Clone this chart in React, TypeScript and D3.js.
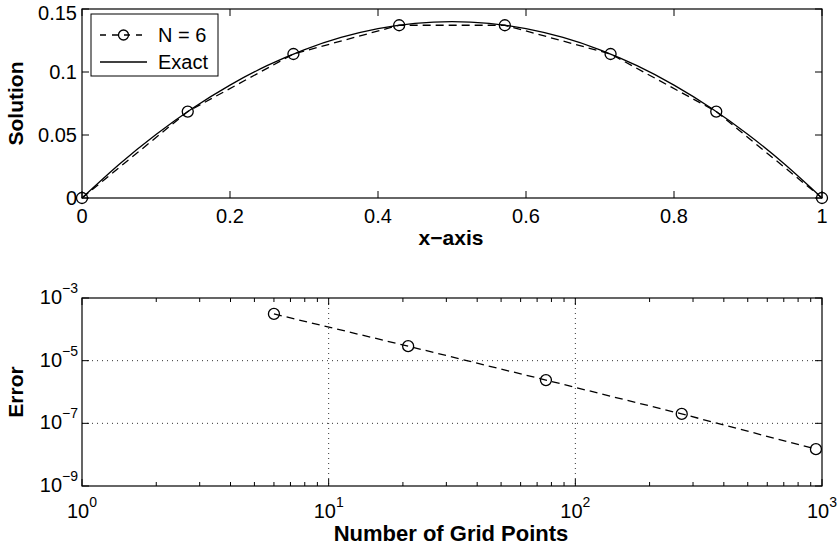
import React from "react";
import * as d3 from "d3";

// ---- data ----
const nodeX = [0, 0.1429, 0.2857, 0.4286, 0.5714, 0.7143, 0.8571, 1];
const nodeU = [0, 0.0686, 0.1143, 0.1371, 0.1371, 0.1143, 0.0686, 0];
const exactX = [0, 0.05, 0.1, 0.15, 0.2, 0.25, 0.3, 0.35, 0.4, 0.45, 0.5, 0.55, 0.6, 0.65, 0.7, 0.75, 0.8, 0.85, 0.9, 0.95, 1];
const exactU = [0, 0.0266, 0.0504, 0.0714, 0.0896, 0.105, 0.1176, 0.1274, 0.1344, 0.1386, 0.14, 0.1386, 0.1344, 0.1274, 0.1176, 0.105, 0.0896, 0.0714, 0.0504, 0.0266, 0];
const gridN = [6, 21, 76, 270, 945];
const errVals = [3.1e-4, 2.9e-5, 2.4e-6, 2.0e-7, 1.5e-8];
const topXTicks = [0, 0.2, 0.4, 0.6, 0.8, 1];
const topXLabels = ["0", "0.2", "0.4", "0.6", "0.8", "1"];
const topYTicks = [0, 0.05, 0.1, 0.15];
const topYLabels = ["0", "0.05", "0.1", "0.15"];
const botXExp = [0, 1, 2, 3];
const botYExp = [-3, -5, -7, -9];
const legendLabels = ["N = 6", "Exact"];

const FONT = "'Liberation Sans', Arial, Helvetica, sans-serif";

export default function App() {
  const L = 82, R = 822;
  const x1 = d3.scaleLinear().domain([0, 1]).range([L, R]);
  const y1 = d3.scaleLinear().domain([0, 0.15]).range([198, 9]);
  const x2 = d3.scaleLog().domain([1, 1000]).range([L, R]);
  const y2 = d3.scaleLog().domain([1e-9, 1e-3]).range([486, 298]);

  const numLine = d3.line<number>().x((_, i) => x1(nodeX[i])).y((d) => y1(d))(nodeU) || "";
  const exLine = d3.line<number>().x((_, i) => x1(exactX[i])).y((d) => y1(d)).curve(d3.curveNatural)(exactU) || "";
  const errLine = d3.line<number>().x((_, i) => x2(gridN[i])).y((d) => y2(d))(errVals) || "";

  const T = 7, t = 4;
  const minorX: number[] = [];
  for (let e = 0; e < 3; e++) for (let k = 2; k <= 9; k++) minorX.push(k * Math.pow(10, e));

  const dash = "8,5";
  const r = 5.5;

  return (
    <svg width={839} height={547} style={{ position: "absolute", left: 0, top: 0, background: "#fff" }} fontFamily={FONT}>
      <rect x={0} y={0} width={839} height={547} fill="#fff" />
      {/* ---------- top plot ---------- */}
      <g>
        {topXTicks.map((v, i) => (
          <g key={"tx" + i}>
            <line x1={x1(v)} x2={x1(v)} y1={198} y2={198 - T} stroke="#000" />
            <line x1={x1(v)} x2={x1(v)} y1={9} y2={9 + T} stroke="#000" />
            <text x={x1(v)} y={223} fontSize={20} textAnchor="middle">{topXLabels[i]}</text>
          </g>
        ))}
        {topYTicks.map((v, i) => (
          <g key={"ty" + i}>
            <line x1={L} x2={L + T} y1={y1(v)} y2={y1(v)} stroke="#000" />
            <line x1={R} x2={R - T} y1={y1(v)} y2={y1(v)} stroke="#000" />
            <text x={77} y={Math.max(y1(v), 12.5) + 7} fontSize={20} textAnchor="end">{topYLabels[i]}</text>
          </g>
        ))}
        <path d={exLine} fill="none" stroke="#000" strokeWidth={1.3} />
        <path d={numLine} fill="none" stroke="#000" strokeWidth={1.3} strokeDasharray={dash} />
        {nodeU.map((v, i) => (
          <circle key={"c" + i} cx={x1(nodeX[i])} cy={y1(v)} r={r} fill="none" stroke="#000" strokeWidth={1.3} />
        ))}
        <rect x={L} y={9} width={R - L} height={189} fill="none" stroke="#000" strokeWidth={1.2} />
        {/* legend */}
        <rect x={91} y={14} width={127} height={62} fill="#fff" stroke="#000" strokeWidth={1} />
        <line x1={100} x2={147} y1={35} y2={35} stroke="#000" strokeWidth={1.3} strokeDasharray="6,6" strokeDashoffset={0} />
        <circle cx={123.5} cy={35} r={5} fill="none" stroke="#000" strokeWidth={1.3} />
        <text x={158} y={42} fontSize={20}>{legendLabels[0]}</text>
        <line x1={100} x2={147} y1={62} y2={62} stroke="#000" strokeWidth={1.3} />
        <text x={158} y={69} fontSize={20}>{legendLabels[1]}</text>
        <text x={451} y={245} fontSize={21} fontWeight="bold" textAnchor="middle">x−axis</text>
        <text transform={`translate(23,${(9 + 198) / 2}) rotate(-90)`} fontSize={21} fontWeight="bold" textAnchor="middle">Solution</text>
      </g>

      {/* ---------- bottom plot ---------- */}
      <g>
        {[10, 100].map((v) => (
          <line key={"gx" + v} x1={x2(v)} x2={x2(v)} y1={298} y2={486} stroke="#333" strokeDasharray="1,4" />
        ))}
        {[1e-5, 1e-7].map((v) => (
          <line key={"gy" + v} x1={L} x2={R} y1={y2(v)} y2={y2(v)} stroke="#333" strokeDasharray="1,4" />
        ))}
        {minorX.map((v) => (
          <g key={"mx" + v}>
            <line x1={x2(v)} x2={x2(v)} y1={486} y2={486 - t} stroke="#000" />
            <line x1={x2(v)} x2={x2(v)} y1={298} y2={298 + t} stroke="#000" />
          </g>
        ))}
        {botXExp.map((e) => {
          const v = Math.pow(10, e);
          return (
            <g key={"bx" + e}>
              <line x1={x2(v)} x2={x2(v)} y1={486} y2={486 - T} stroke="#000" />
              <line x1={x2(v)} x2={x2(v)} y1={298} y2={298 + T} stroke="#000" />
              <text x={x2(v)} y={518} fontSize={20} textAnchor="middle">
                10<tspan dy={-11} fontSize={14}>{String(e)}</tspan>
              </text>
            </g>
          );
        })}
        {botYExp.map((e) => {
          const v = Math.pow(10, e);
          return (
            <g key={"by" + e}>
              <line x1={L} x2={L + T} y1={y2(v)} y2={y2(v)} stroke="#000" />
              <line x1={R} x2={R - T} y1={y2(v)} y2={y2(v)} stroke="#000" />
              <text x={78} y={y2(v) + 6} fontSize={20} textAnchor="end">
                10<tspan dy={-11} fontSize={14}>{"−" + String(-e)}</tspan>
              </text>
            </g>
          );
        })}
        <path d={errLine} fill="none" stroke="#000" strokeWidth={1.3} strokeDasharray={dash} />
        {errVals.map((v, i) => (
          <circle key={"e" + i} cx={x2(gridN[i])} cy={y2(v)} r={r} fill="none" stroke="#000" strokeWidth={1.3} />
        ))}
        <rect x={L} y={298} width={R - L} height={188} fill="none" stroke="#000" strokeWidth={1.2} />
        <text x={451} y={541} fontSize={22} fontWeight="bold" textAnchor="middle">Number of Grid Points</text>
        <text transform={`translate(23,${(298 + 486) / 2}) rotate(-90)`} fontSize={21} fontWeight="bold" textAnchor="middle">Error</text>
      </g>
    </svg>
  );
}
